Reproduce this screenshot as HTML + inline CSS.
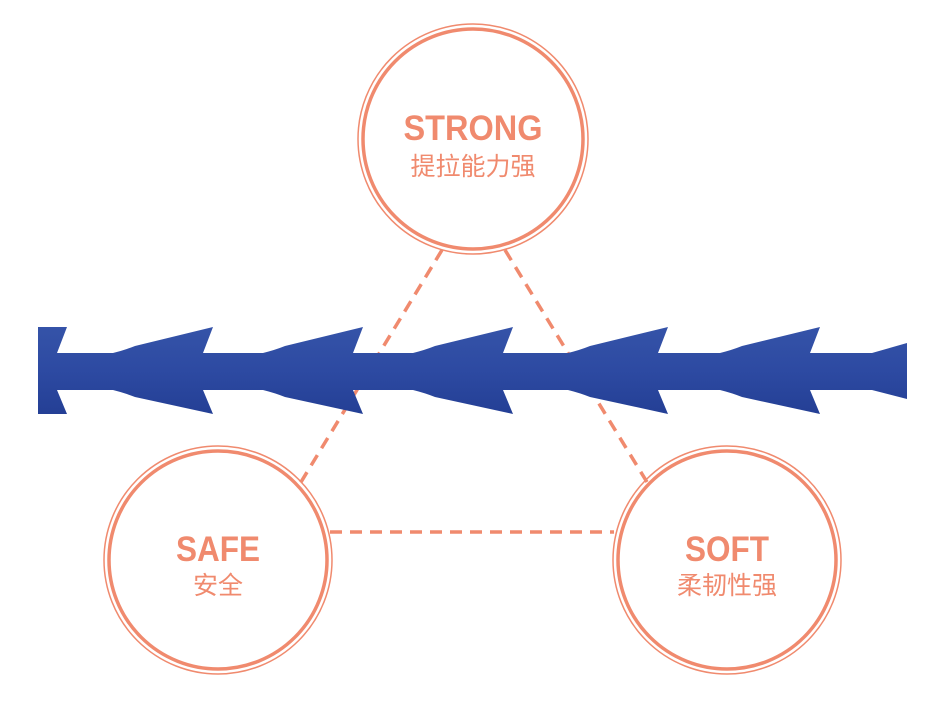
<!DOCTYPE html>
<html><head><meta charset="utf-8"><style>
html,body{margin:0;padding:0;background:#fff;}
body{width:941px;height:712px;overflow:hidden;position:relative;}
</style></head><body>
<svg width="941" height="712" viewBox="0 0 941 712" xmlns="http://www.w3.org/2000/svg">
<defs>
<linearGradient id="g" x1="0" y1="0" x2="0" y2="1">
<stop offset="0" stop-color="#3553a8"/><stop offset="0.5" stop-color="#2d4aa2"/><stop offset="1" stop-color="#243f95"/>
</linearGradient>
</defs>
<g stroke="#f08a6e" stroke-width="3.5" stroke-dasharray="12,8" fill="none">
<line x1="442" y1="250" x2="298" y2="487"/>
<line x1="505" y1="250" x2="650" y2="487"/>
<line x1="330" y1="532" x2="614" y2="532"/>
</g>
<path fill="url(#g)" d="M38,327 L67,327 L57,353 L113,353 Q125,350 135,346 L213,327 L203,353 L263,353 Q275,350 285,346 L363,327 L353,353 L413,353 Q425,350 435,346 L513,327 L503,353 L568,353 Q580,350 590,346 L668,327 L658,353 L720,353 Q732,350 742,346 L820,327 L810,353 L872,353 L907,343 L907,399 L872,390 L810,390 L820,414 L742,397 Q732,393 720,390 L658,390 L668,414 L590,397 Q580,393 568,390 L503,390 L513,414 L435,397 Q425,393 413,390 L353,390 L363,414 L285,397 Q275,393 263,390 L203,390 L213,414 L135,397 Q125,393 113,390 L57,390 L67,414 L38,414 Z"/>
<g fill="none" stroke="#f08a6e">
<circle cx="473" cy="139" r="115" stroke-width="1.5"/>
<circle cx="473" cy="139" r="110" stroke-width="3.5"/>
<circle cx="218" cy="560" r="114" stroke-width="1.5"/>
<circle cx="218" cy="560" r="109" stroke-width="3.5"/>
<circle cx="727" cy="560" r="114" stroke-width="1.5"/>
<circle cx="727" cy="560" r="109" stroke-width="3.5"/>
</g>
<g fill="#f08a6e" text-anchor="middle" font-family="Liberation Sans, 'Noto Sans CJK SC', sans-serif">
<text x="473" y="140" font-size="35" font-weight="bold" textLength="139" lengthAdjust="spacingAndGlyphs">STRONG</text>
<text x="473" y="175" font-size="25">提拉能力强</text>
<text x="218" y="561" font-size="35" font-weight="bold" textLength="84" lengthAdjust="spacingAndGlyphs">SAFE</text>
<text x="218" y="594" font-size="25">安全</text>
<text x="727" y="561" font-size="35" font-weight="bold" textLength="84" lengthAdjust="spacingAndGlyphs">SOFT</text>
<text x="727" y="594" font-size="25">柔韧性强</text>
</g>
</svg>
</body></html>
